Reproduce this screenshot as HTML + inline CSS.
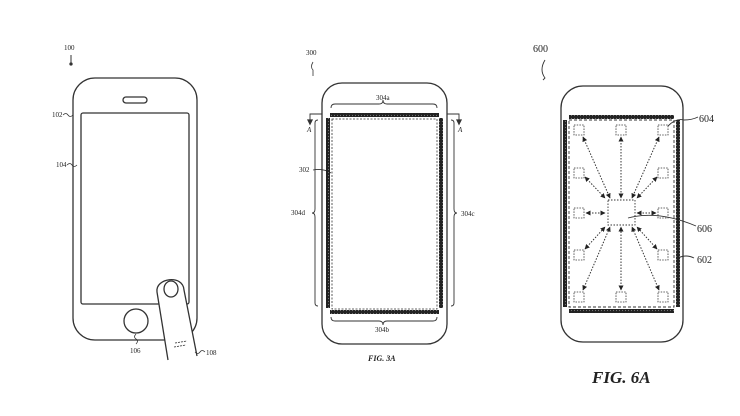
<!DOCTYPE html>
<html><head><meta charset="utf-8"><style>
html,body{margin:0;padding:0;background:#fff;}
svg{display:block;}
text{font-family:"Liberation Serif",serif;fill:#222;}
</style></head><body>
<svg width="740" height="416" viewBox="0 0 740 416" xmlns="http://www.w3.org/2000/svg">
<defs>
<marker id="ah" viewBox="0 0 10 10" refX="9" refY="5" markerWidth="5" markerHeight="5" orient="auto-start-reverse"><path d="M0,0L10,5L0,10z" fill="#222"/></marker>
<pattern id="dots" width="3" height="3" patternUnits="userSpaceOnUse"><rect width="3" height="3" fill="#222"/><circle cx="1.5" cy="1.5" r="0.6" fill="#777"/></pattern>
</defs>
<g fill="none" stroke="#333" stroke-width="1.3">
<!-- Phone 1 -->
<rect x="73" y="78" width="124" height="262" rx="22"/>
<rect x="81" y="113" width="108" height="191" rx="2"/>
<rect x="123" y="97" width="24" height="6" rx="3"/>
<circle cx="136" cy="321" r="12" fill="#fff"/>
<path d="M168,360 L157,292 C155,278 183,274 184,290 L197,356" fill="#fff"/>
<ellipse cx="171" cy="289" rx="7" ry="8"/>
<path d="M175,343 l12,-2 M174,347 l12,-2" stroke-width="0.8" stroke-dasharray="2 1"/>
<path d="M71,55 v8" stroke-width="1"/><circle cx="71" cy="64" r="1" fill="#333"/>
<path d="M63,115 q3,-3 5,0 t5,0 M67,165 q3,-3 5,0 t5,0 M136,334 q-3,3 0,5 t0,5 M195,352 q3,3 5,0 t5,0" stroke-width="0.8"/>
<!-- Phone 2 -->
<rect x="322" y="83" width="125" height="261" rx="20"/>
<rect x="332" y="119" width="105" height="190" stroke-dasharray="2 1.5" stroke-width="0.8"/>
<path d="M331,108 q0,-4 4,-4 h44 q4,0 4,-4 q0,4 4,4 h46 q4,0 4,4 M331,317 q0,4 4,4 h44 q4,0 4,4 q0,-4 4,-4 h46 q4,0 4,-4 M318,120 q-3,0 -3,3 v86 q0,4 -3,4 q3,0 3,4 v86 q0,3 3,3 M451,120 q3,0 3,3 v86 q0,4 3,4 q-3,0 -3,4 v86 q0,3 -3,3" stroke-width="0.9"/>
<path d="M322,114 h-12 v6 M447,114 h12 v6" stroke-width="0.9"/>
<path d="M308,120 l2,4 l2,-4z M457,120 l2,4 l2,-4z" fill="#333"/>
<path d="M313,170 q10,-2 18,3" stroke-width="0.8"/>
<path d="M313,62 q-3,5 0,8 v6" stroke-width="0.8"/>
<!-- Phone 3 -->
<rect x="561" y="86" width="122" height="256" rx="22"/>
<rect x="569" y="120" width="105" height="187" stroke-dasharray="3 2" stroke-width="0.9"/>
<rect x="608" y="200" width="27" height="25" stroke-dasharray="1.5 1.5" stroke-width="0.9"/>
<path d="M545,60 q-6,10 0,18 l-2,2" stroke-width="0.9"/>
<path d="M668,126 q8,-8 16,-6 q8,0 14,-3 M628,218 q30,-8 68,8 M678,258 q8,-4 16,0" stroke-width="0.9"/>
</g>
<g fill="url(#dots)">
<rect x="330" y="113" width="109" height="4"/><rect x="330" y="310" width="109" height="4"/>
<rect x="326" y="118" width="4" height="190"/><rect x="439" y="118" width="4" height="190"/>
<rect x="569" y="115" width="105" height="4"/><rect x="569" y="309" width="105" height="4"/>
<rect x="563" y="120" width="4" height="187"/><rect x="676" y="120" width="4" height="187"/>
</g>
<g fill="none" stroke="#333" stroke-width="0.8" stroke-dasharray="1.5 1.2">
<rect x="574" y="125" width="10" height="10"/><rect x="616" y="125" width="10" height="10"/><rect x="658" y="125" width="10" height="10"/>
<rect x="574" y="168" width="10" height="10"/><rect x="658" y="168" width="10" height="10"/>
<rect x="574" y="208" width="10" height="10"/><rect x="658" y="208" width="10" height="10"/>
<rect x="574" y="250" width="10" height="10"/><rect x="658" y="250" width="10" height="10"/>
<rect x="574" y="292" width="10" height="10"/><rect x="616" y="292" width="10" height="10"/><rect x="658" y="292" width="10" height="10"/>
</g>
<g stroke="#333" stroke-width="1" stroke-dasharray="1.5 1.5" marker-start="url(#ah)" marker-end="url(#ah)">
<line x1="583" y1="137" x2="610" y2="198"/>
<line x1="621" y1="137" x2="621" y2="198"/>
<line x1="659" y1="137" x2="632" y2="198"/>
<line x1="585" y1="177" x2="605" y2="198"/>
<line x1="657" y1="177" x2="637" y2="198"/>
<line x1="586" y1="213" x2="605" y2="213"/>
<line x1="656" y1="213" x2="637" y2="213"/>
<line x1="585" y1="249" x2="605" y2="227"/>
<line x1="657" y1="249" x2="637" y2="227"/>
<line x1="583" y1="290" x2="610" y2="227"/>
<line x1="621" y1="290" x2="621" y2="227"/>
<line x1="659" y1="290" x2="632" y2="227"/>
</g>
<g font-size="7">
<text x="64" y="50">100</text>
<text x="52" y="117">102</text>
<text x="56" y="167">104</text>
<text x="130" y="353">106</text>
<text x="206" y="355">108</text>
<text x="306" y="55">300</text>
<text x="376" y="100">304a</text>
<text x="375" y="332">304b</text>
<text x="461" y="216">304c</text>
<text x="291" y="215">304d</text>
<text x="299" y="172">302</text>
<text x="307" y="132" font-style="italic">A</text>
<text x="458" y="132" font-style="italic">A</text>
</g>
<text x="368" y="361" font-size="8" font-weight="bold" font-style="italic">FIG. 3A</text>
<g font-size="10">
<text x="533" y="52">600</text>
<text x="699" y="122">604</text>
<text x="697" y="232">606</text>
<text x="697" y="263">602</text>
</g>
<text x="592" y="383" font-size="17" font-weight="bold" font-style="italic">FIG. 6A</text>
</svg>
</body></html>
